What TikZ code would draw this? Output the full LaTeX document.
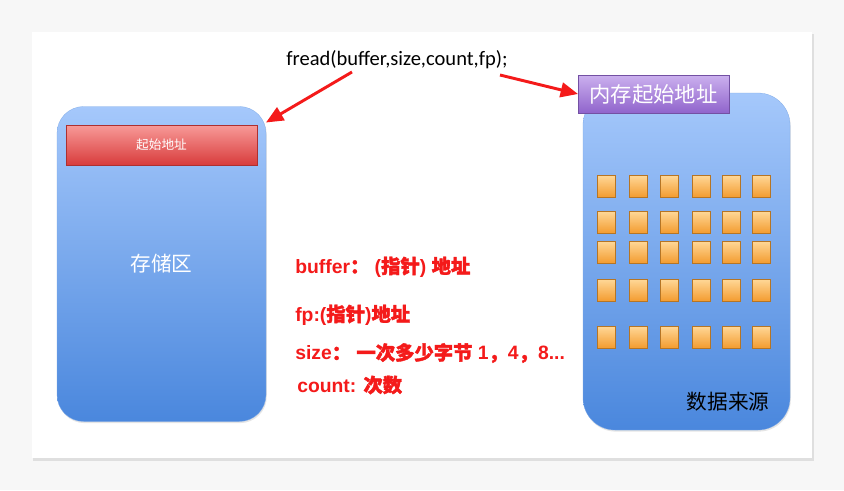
\documentclass[tikz,border=0pt]{standalone}
\usepackage{fontspec}
\setmainfont{Liberation Sans}
\newfontfamily\cjk{Noto Sans CJK SC}
\newfontfamily\cjkb[FakeBold=2]{Noto Sans CJK SC}
\newfontfamily\calib{Carlito}
\usetikzlibrary{arrows.meta,shadows}
\definecolor{boxtop}{HTML}{A5C8FB}
\definecolor{boxbot}{HTML}{4A87DD}
\definecolor{redtop}{HTML}{F89A98}
\definecolor{redbot}{HTML}{D83C3C}
\definecolor{purtop}{HTML}{CBB0EE}
\definecolor{purbot}{HTML}{9064CC}
\definecolor{orgtop}{HTML}{FFD898}
\definecolor{orgbot}{HTML}{F39C30}
\definecolor{notered}{HTML}{F41A1A}
\newcommand\zh[1]{{\cjkb #1}}

\begin{document}
\begin{tikzpicture}[x=0.75pt, y=-0.75pt]
\tikzset{
  panel/.style={rounded corners=20pt, inner sep=0pt, outer sep=0pt,
    top color=boxtop, bottom color=boxbot, draw=boxbot!70!white, very thin,
    drop shadow={opacity=0.2, shadow xshift=0.6pt, shadow yshift=-1.2pt}},
  bar/.style={inner sep=0pt, outer sep=0pt, text=white, draw=#1bot!80!black, very thin,
    top color=#1top, bottom color=#1bot,
    drop shadow={opacity=0.3, shadow xshift=0.6pt, shadow yshift=-1pt}},
  cell/.style={inner sep=0pt, minimum width=13.5pt, minimum height=16.5pt,
    top color=orgtop, bottom color=orgbot, draw=orgbot!75!black, thin,
    drop shadow={opacity=0.35, shadow xshift=0.5pt, shadow yshift=-0.8pt}},
  note/.style={anchor=west, inner sep=0pt, text=notered, font=\bfseries\fontsize{14.5}{17}\selectfont},
  pointer/.style={draw=notered, line width=2.2pt, -{Triangle[length=13pt, width=11pt]}}
}
% page and slide
\fill[gray!6] (0,0) rectangle (844,490);
\useasboundingbox (0,0) rectangle (844,490);
\fill[gray!25] (33,34) rectangle (814,461);
\fill[white] (32,32) rectangle (812,458);

% the call
\node[font=\calib\fontsize{15.4}{17}\selectfont] (call) at (397,60) {fread(buffer,size,count,fp);};
\coordinate (bufstart) at (352,72);
\coordinate (fpstart) at (500,75);

% storage area
\node[panel, minimum width=156.75pt, minimum height=236.25pt, text=white,
  font=\cjk\fontsize{15.5}{17}\selectfont] (store) at (161.5,264) {存储区};
\node[bar=red, minimum width=143.25pt, minimum height=30pt,
  font=\cjk\fontsize{9.5}{11}\selectfont] (startaddr) at (161.5,145) {起始地址};

% data source
\node[panel, rounded corners=24pt, minimum width=155.25pt, minimum height=252.75pt] (source) at (686.5,261.5) {};
\node[bar=pur, minimum width=113.25pt, minimum height=28.5pt,
  font=\cjk\fontsize{16}{18}\selectfont] (memaddr) at (653.5,94) {内存起始地址};
\foreach \y in {186,222,252,290,337}
  \foreach \x in {606,638,669,701,731,761}
    \node[cell] (cell-\x-\y) at (\x,\y) {};
\node[font=\cjk\fontsize{15.5}{17}\selectfont] (srclabel) at (728,402) {数据来源};

% arrows
\draw[pointer] (bufstart) -- ([yshift=-12pt]store.north east);
\draw[pointer] (fpstart) -- (memaddr.west);

% notes
\node[note] (bufnote) at (295,267) {buffer\zh{：} (\zh{指针}) \zh{地址}};
\node[note] (fpnote) at (295,315) {fp:(\zh{指针})\zh{地址}};
\node[note] (sizenote) at (295,353) {size\zh{：} \zh{一次多少字节} 1\zh{，}4\zh{，}8...};
\node[note] (countnote) at (297,385) {count: \zh{次数}};
\end{tikzpicture}
\end{document}
